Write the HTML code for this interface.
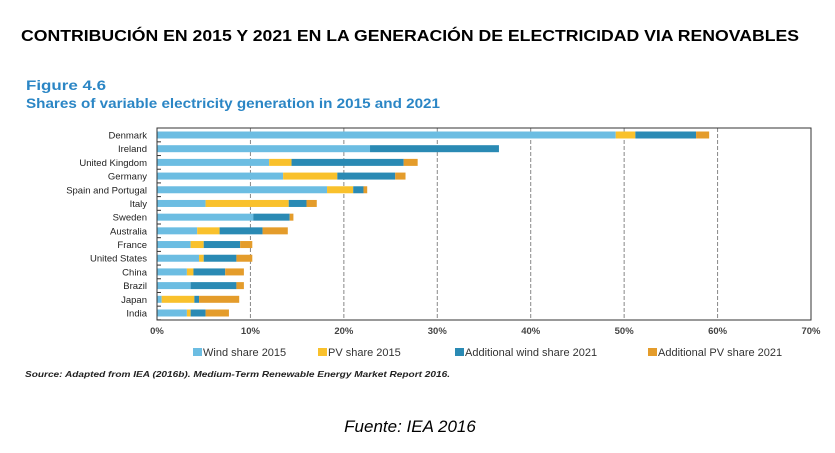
<!DOCTYPE html>
<html><head><meta charset="utf-8"><style>
html,body{margin:0;padding:0;background:#fff;}
svg{display:block;font-family:"Liberation Sans",sans-serif;}
</style></head><body>
<svg id="chart" width="835" height="453" viewBox="0 0 835 453">
<text x="21" y="41" font-size="16" font-weight="bold" fill="#000" textLength="778" lengthAdjust="spacingAndGlyphs">CONTRIBUCIÓN EN 2015 Y 2021 EN LA GENERACIÓN DE ELECTRICIDAD VIA RENOVABLES</text>
<text x="26" y="90" font-size="14" font-weight="bold" fill="#2b86c5" textLength="80" lengthAdjust="spacingAndGlyphs">Figure 4.6</text>
<text x="26" y="108" font-size="13.5" font-weight="bold" fill="#2b86c5" textLength="414" lengthAdjust="spacingAndGlyphs">Shares of variable electricity generation in 2015 and 2021</text>
<g id="grid"></g>
<g id="bars"></g>
<g id="axes"></g>
<g id="legend"></g>
<text x="25" y="377" font-size="8.5" font-style="italic" font-weight="bold" fill="#222" textLength="425" lengthAdjust="spacingAndGlyphs">Source: Adapted from IEA (2016b). Medium-Term Renewable Energy Market Report 2016.</text>
<text x="410" y="432" text-anchor="middle" font-size="17" font-style="italic" fill="#000">Fuente: IEA 2016</text>
</svg>
<script>
const categories = ["Denmark","Ireland","United Kingdom","Germany","Spain and Portugal","Italy","Sweden","Australia","France","United States","China","Brazil","Japan","India"];
const windShare2015 = [49.1,22.8,12.0,13.5,18.2,5.2,10.3,4.3,3.6,4.5,3.2,3.6,0.5,3.2];
const pvShare2015 = [2.1,0,2.4,5.8,2.8,8.9,0,2.4,1.4,0.5,0.7,0,3.5,0.4];
const addWind2021 = [6.5,13.8,12.0,6.2,1.1,1.9,3.9,4.6,3.9,3.5,3.4,4.9,0.5,1.6];
const addPV2021 = [1.4,0,1.5,1.1,0.4,1.1,0.4,2.7,1.3,1.7,2.0,0.8,4.3,2.5];
const tickValues = [0,10,20,30,40,50,60,70];
const seriesNames = ["Wind share 2015","PV share 2015","Additional wind share 2021","Additional PV share 2021"];
const seriesColors = ["#6cbde2","#f9c12c","#2a8ab4","#e49c2b"];

const NS="http://www.w3.org/2000/svg";
const x0=157, x1=811, yTop=128, yBot=320;
function xScale(v){return x0+(v/70)*(x1-x0);}
const step=(313-135)/13;
function yCenter(i){return 135+i*step;}
function mk(tag,attrs,parent){const e=document.createElementNS(NS,tag);for(const k in attrs)e.setAttribute(k,attrs[k]);parent.appendChild(e);return e;}

const grid=document.getElementById('grid');
tickValues.forEach((t,i)=>{
  if(t>0&&t<70){
    const l=mk('line',{x1:xScale(t),x2:xScale(t),y1:yTop,y2:yBot,stroke:'#888','stroke-dasharray':'4,2','stroke-width':1},grid);
    
    
  }
});

const bars=document.getElementById('bars');
const series=[windShare2015,pvShare2015,addWind2021,addPV2021];
const segNames=["wind-2015","pv-2015","add-wind-2021","add-pv-2021"];
categories.forEach((c,i)=>{
  let acc=0;
  series.forEach((s,k)=>{
    const v=s[i];
    if(v>0){
      const r=mk('rect',{x:xScale(acc),y:yCenter(i)-3.5,width:xScale(acc+v)-xScale(acc),height:7,fill:seriesColors[k]},bars);
      
      
    }
    acc+=v;
  });
});

const axes=document.getElementById('axes');
const frame=mk('rect',{x:x0,y:yTop,width:x1-x0,height:yBot-yTop,fill:'none',stroke:'#333','stroke-width':1},axes);


categories.forEach((c,i)=>{
  const t=mk('text',{x:147,y:yCenter(i)+3.5,'text-anchor':'end','font-size':9.5,fill:'#222'},axes);
  t.textContent=c;
  
  
  const tk=mk('line',{x1:x0,x2:x0+4,y1:yCenter(i)+step/2,y2:yCenter(i)+step/2,stroke:'#333'},axes);
  
  
});
tickValues.forEach(t=>{
  const tx=mk('text',{x:xScale(t),y:334,'text-anchor':'middle','font-size':9.5,'font-weight':'bold',fill:'#444'},axes);
  tx.textContent=t+'%';
  
  
});

const legend=document.getElementById('legend');
const lx=[193,318,455,648];
seriesNames.forEach((n,k)=>{
  const r=mk('rect',{x:lx[k],y:348,width:9,height:8,fill:seriesColors[k]},legend);
  
  
  const t=mk('text',{x:lx[k]+10,y:356,'font-size':11,fill:'#333'},legend);
  t.textContent=n;
  
  
});
</script>
</body></html>
